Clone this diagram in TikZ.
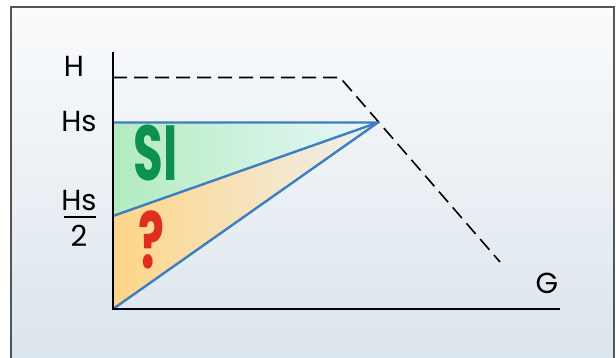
\documentclass[tikz,border=0pt]{standalone}
\usepackage{fontspec}
\setmainfont{Poppins}
\newfontfamily\bigfont[FakeStretch=0.62]{Poppins}
\begin{document}
\begin{tikzpicture}[x=1pt,y=-1pt,
  lbl/.style={font=\fontsize{29}{32}\selectfont, inner sep=0pt, anchor=center},
  axis/.style={line width=2.4pt, black},
  blueline/.style={line width=2.4pt, color=lineblue},
  dashline/.style={line width=1.6pt, black, dash pattern=on 14pt off 7pt}]
\definecolor{lineblue}{HTML}{3D7DC2}
\definecolor{bgtop}{HTML}{FAFBFC}
\definecolor{bgbot}{HTML}{DAE4EC}
\definecolor{greenL}{HTML}{B2EBBE}
\definecolor{greenR}{HTML}{EAF8FD}
\definecolor{orangeL}{HTML}{FED587}
\definecolor{orangeR}{HTML}{EEF1F2}
\definecolor{siGreen}{HTML}{0E9150}
\definecolor{qRed}{HTML}{E02D1E}
\definecolor{frame}{HTML}{555555}
\useasboundingbox (0,0) rectangle (616,358);
\fill[white] (0,0) rectangle (616,358);
\shade[top color=bgtop, bottom color=bgbot] (11,7) rectangle (614,372);
\draw[frame, line width=1.5pt] (11,372) -- (11,7) -- (614,7) -- (614,372);
% coordinates
\coordinate (O) at (113,309);
\coordinate (T) at (113,52);
\coordinate (X) at (560,309);
\coordinate (HS) at (113,122.5);
\coordinate (HH) at (113,216);
\coordinate (A) at (378,122.5);
\coordinate (D1) at (113,77.5);
\coordinate (D2) at (340,77.5);
\coordinate (D3) at (500,262);
\coordinate (B1) at (64,217);
\coordinate (B2) at (96,217);
% fills
\shade[left color=greenL, right color=greenR] (HS) -- (A) -- (HH) -- cycle;
\shade[left color=orangeL, middle color=orangeL!40!orangeR, right color=orangeR] (HH) -- (A) -- (O) -- cycle;
% dashed curve
\draw[dashline] (D1) -- (D2) -- (D3);
% blue lines
\draw[blueline, line join=round] (HS) -- (A) -- (HH);
\draw[blueline, line join=round] (A) -- (O);
% axes
\draw[axis] (T) -- (O) -- (X);
% labels
\node[lbl] (lH) at (74,66) {H};
\node[lbl] (lHs) at (79,122) {Hs};
\node[lbl] (lHn) at (79,201) {Hs};
\draw[line width=1.5pt] (B1) -- (B2);
\node[lbl] (lHd) at (79,236) {2};
\node[lbl] (lG) at (547,283) {G};
\node[inner sep=0pt, text=siGreen, font=\bigfont\bfseries\fontsize{78}{78}\selectfont] (si) at (156,153) {SI};
\node[inner sep=0pt, text=qRed, font=\bigfont\bfseries\fontsize{78}{78}\selectfont] (q) at (152,240) {?};
\end{tikzpicture}
\end{document}
